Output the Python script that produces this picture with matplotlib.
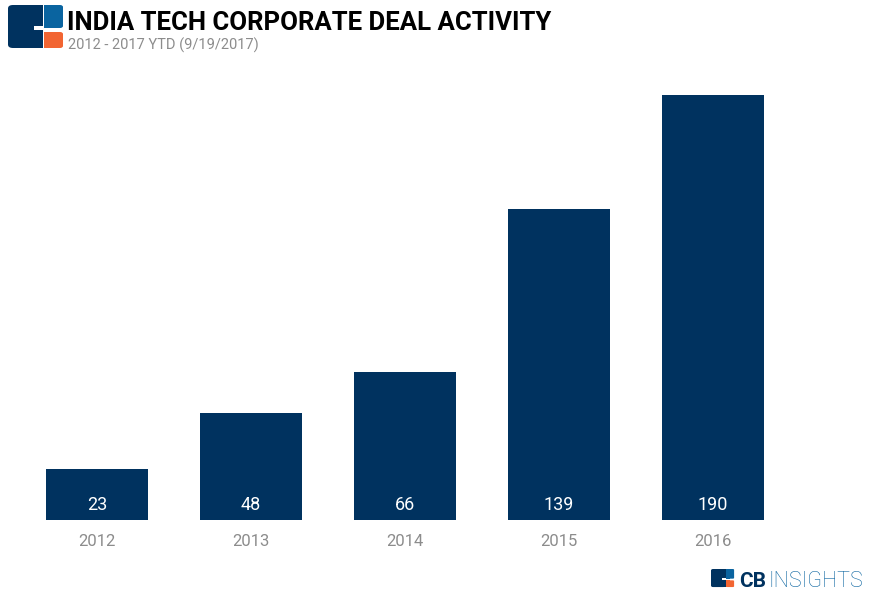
import matplotlib
matplotlib.use('Agg')
from matplotlib import pyplot as plt
from matplotlib.patches import Rectangle, FancyBboxPatch
from matplotlib import font_manager

years: list[str] = ['2012', '2013', '2014', '2015', '2016']
deals: list[int] = [23, 48, 66, 139, 190]

title: str = 'INDIA TECH CORPORATE DEAL ACTIVITY'
subtitle: str = '2012 - 2017 YTD (9/19/2017)'

navy: str = '#00325f'
blue: str = '#0a64a0'
orange: str = '#f26532'
gray: str = '#8c8c8c'

W, H = 880, 600
names = {f.name for f in font_manager.fontManager.ttflist}
narrow = 'Liberation Sans Narrow' in names
title_font = 'Liberation Sans Narrow' if narrow else 'Roboto'

plt.rcParams['font.family'] = ['Roboto', 'DejaVu Sans']

fig = plt.figure(figsize=(W / 100, H / 100), dpi=100)


def fx(px: float) -> float:
    return px / W


def fy(py: float) -> float:
    return 1 - py / H


def logo(x0: float, y0: float, s: float) -> None:
    # CB logo drawn from pixel coords, s = scale (1 -> ~55x43 px)
    def box(x, y, w, h, c, r=0.0):
        if r:
            p = FancyBboxPatch((fx(x), fy(y + h)), fx(w), h / H,
                               boxstyle=f'round,pad=0,rounding_size={r / W}',
                               transform=fig.transFigure, color=c, lw=0)
        else:
            p = Rectangle((fx(x), fy(y + h)), fx(w), h / H,
                          transform=fig.transFigure, color=c, lw=0)
        fig.patches.append(p)
    box(x0, y0, 34 * s, 43 * s, navy, 5 * s)
    box(x0 + 20 * s, y0, 15 * s, 43 * s, navy)
    box(x0 + 26 * s, y0 + 21 * s, 12 * s, 4 * s, 'white')
    box(x0 + 35 * s, y0, 20 * s, 43 * s, 'white')
    box(x0 + 36 * s, y0, 19 * s, 23 * s, blue, 3 * s)
    box(x0 + 36 * s, y0, 10 * s, 23 * s, blue)
    box(x0 + 36 * s, y0 + 27 * s, 19 * s, 16 * s, orange, 3 * s)
    box(x0 + 36 * s, y0 + 27 * s, 10 * s, 16 * s, orange)


logo(8, 5, 1.0)
fig.text(fx(67), fy(30), title, fontsize=24 if narrow else 18.5, fontweight='bold',
         family=title_font, color='black', va='baseline')
fig.text(fx(68), fy(50), subtitle, fontsize=10.5, color=gray, va='baseline')

ax = fig.add_axes([fx(20), fy(520), fx(790 - 20), (520 - 95) / H])
bars = ax.bar(range(len(years)), deals, width=0.66, color=navy)
ax.set_xlim(-0.5, len(years) - 0.5)
ax.set_ylim(0, max(deals))
ax.set_xticks(range(len(years)))
ax.set_xticklabels(years, fontsize=12, color=gray)
ax.tick_params(axis='x', length=0, pad=10)
ax.set_yticks([])
for side in ax.spines.values():
    side.set_visible(False)

for i, v in enumerate(deals):
    ax.annotate(str(v), (i, 0), xytext=(0, 11), textcoords='offset points',
                ha='center', va='center', color='white', fontsize=13)

# footer logo
logo(711, 569, 0.42)
fig.text(fx(739), fy(587), 'CB', fontsize=15, fontweight='bold', color=navy, va='baseline')
fig.text(fx(768), fy(587), 'INSIGHTS', fontsize=15.5, fontweight='light', color=blue,
         va='baseline')

fig.savefig('out.png', dpi=100)
